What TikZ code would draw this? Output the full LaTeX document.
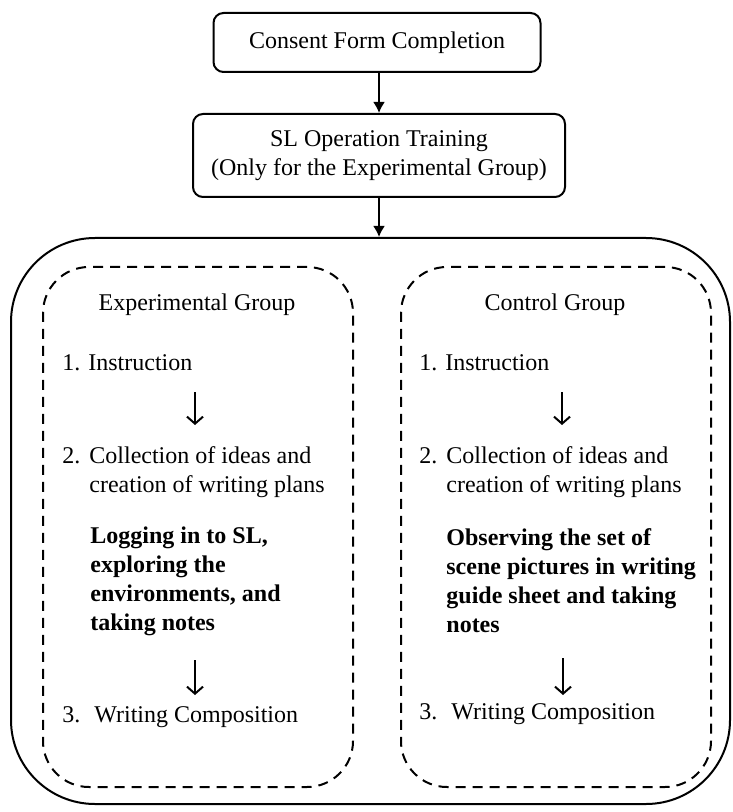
\documentclass[tikz,border=0pt]{standalone}
\usepackage{fontspec}
\setmainfont{Liberation Serif}
\usetikzlibrary{arrows.meta,fit,positioning}

\begin{document}
\begin{tikzpicture}[x=0.5pt,y=-0.5pt, every node/.style={font=\fontsize{12}{14.5}\selectfont}, procbox/.style={draw,line width=1pt,rounded corners=5pt,align=center,inner sep=0pt}, groupbox/.style={draw,line width=1pt,rounded corners=42pt,inner sep=0pt}, dashbox/.style={draw,line width=1pt,dash pattern=on 5pt off 3.5pt,rounded corners=23pt,inner sep=0pt}, txt/.style={anchor=west,inner sep=0pt,align=left}, boldtxt/.style={txt,font=\fontsize{12}{14.5}\selectfont\bfseries}, flow/.style={-{Latex[length=5.5pt,width=6pt]},line width=1pt}, down/.style={-{Straight Barb[length=3.5pt,width=8pt]},line width=1pt}]
				\useasboundingbox (0,0) rectangle (732,812);
				% top of the procedure
				\node[procbox,minimum width=163.5pt,minimum height=29.5pt] (consent) at (377,42.5) {Consent Form Completion};
				\node[procbox,minimum width=186pt,minimum height=41.5pt] (training) at (379,155.5) {SL Operation Training\\(Only for the Experimental Group)};
				% frames
				\coordinate (bigNW) at (11,238);
				\coordinate (bigSE) at (730,804);
				\node[groupbox,fit=(bigNW)(bigSE)] (groups) {};
				\coordinate (exNW) at (43,267);
				\coordinate (exSE) at (353,787);
				\node[dashbox,fit=(exNW)(exSE)] (exbox) {};
				\coordinate (ctNW) at (401,267);
				\coordinate (ctSE) at (711,787);
				\node[dashbox,fit=(ctNW)(ctSE)] (ctbox) {};
				\draw[flow] (consent.south -| training.north) to (training.north);
				\draw[flow] (training.south) to (training.south |- groups.north);
				% experimental group
				\node (exhead) at (197,305) {Experimental Group};
				\node[txt] (ex1) at (62,363) {1.\hspace{4pt}Instruction};
				\node[txt] (ex2) at (62,472.5) {\begin{tabular}{@{}l@{\hspace{4.5pt}}l@{}}2. & Collection of ideas and\\ & creation of writing plans\end{tabular}};
				\node[boldtxt] (exsl) at (90,581) {Logging in to SL,\\exploring the\\environments, and\\taking notes};
				\node[txt] (ex3) at (62,717) {3.\hspace{7pt}Writing Composition};
				\coordinate (exa1) at (195,392);
				\coordinate (exb1) at (195,425);
				\coordinate (exa2) at (195,660);
				\coordinate (exb2) at (195,695);
				\draw[down] (exa1) to (exb1);
				\draw[down] (exa2) to (exb2);
				% control group
				\node (cthead) at (555,305) {Control Group};
				\node[txt] (ct1) at (419,363) {1.\hspace{4pt}Instruction};
				\node[txt] (ct2) at (419,472.5) {\begin{tabular}{@{}l@{\hspace{4.5pt}}l@{}}2. & Collection of ideas and\\ & creation of writing plans\end{tabular}};
				\node[boldtxt] (ctpic) at (446,581) {Observing the set of\\scene pictures in writing\\guide sheet and taking\\notes};
				\node[txt] (ct3) at (419,714) {3.\hspace{7pt}Writing Composition};
				\coordinate (cta1) at (562,392);
				\coordinate (ctb1) at (562,425);
				\coordinate (cta2) at (563,658);
				\coordinate (ctb2) at (563,695);
				\draw[down] (cta1) to (ctb1);
				\draw[down] (cta2) to (ctb2);
			\end{tikzpicture}
\end{document}
